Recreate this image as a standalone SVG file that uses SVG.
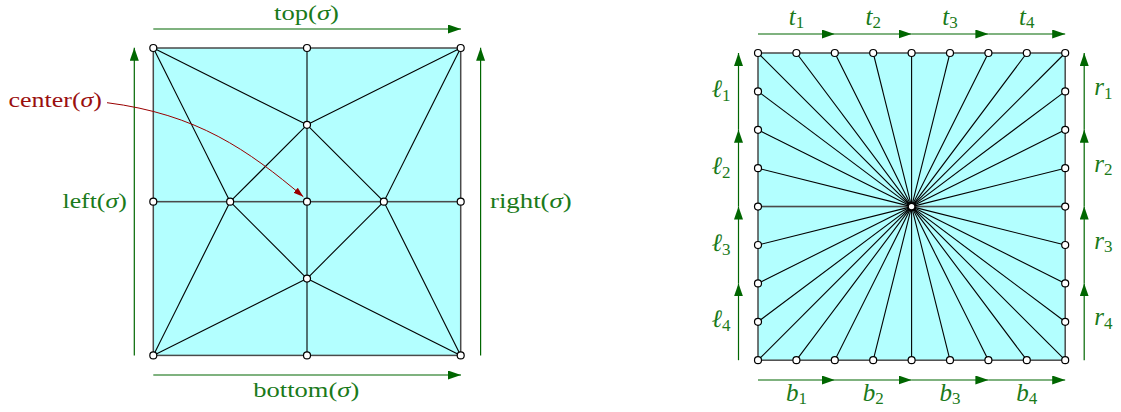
<svg xmlns="http://www.w3.org/2000/svg" width="1121" height="412" viewBox="0 0 1121 412">
<style>
.face{fill:#b3ffff;stroke:#4a4a4a;stroke-width:1.5}
.edge{stroke:#000;stroke-width:1.1;fill:none}
.node{fill:#fff;stroke:#000;stroke-width:1.2}
.garr{stroke:#006600;stroke-width:1.2;fill:none;marker-end:url(#ga)}
.glab{fill:#1a7a1a;font-family:"Liberation Serif","Times New Roman",serif;font-size:22px}
.slab{fill:#1a7a1a;font-family:"Liberation Serif","Times New Roman",serif;font-size:25px}
.rlab{fill:#9a0f0f;font-family:"Liberation Serif","Times New Roman",serif;font-size:22px}
.it{font-style:italic}
.sub{font-size:17px}
</style>
<defs>
<marker id="ga" markerWidth="14" markerHeight="10" refX="13" refY="4.5" orient="auto" markerUnits="userSpaceOnUse">
<path d="M0,0 L13,4.5 L0,9 Z" fill="#006600"/>
</marker>
<marker id="ra" markerWidth="11" markerHeight="8" refX="10" refY="3.3" orient="auto" markerUnits="userSpaceOnUse">
<path d="M0,0 L10,3.3 L0,6.6 Z" fill="#990000"/>
</marker>
</defs>

<!-- LEFT PANEL -->
<g id="left-square">
<rect class="face" x="153.3" y="48" width="307.4" height="153.7"/>
<rect class="face" x="153.3" y="201.7" width="307.4" height="153.7"/>
</g>
<g id="left-edges" class="edge">
<line x1="307" y1="48" x2="307" y2="355.4"/>
<line x1="153.3" y1="48" x2="307" y2="124.85"/>
<line x1="153.3" y1="48" x2="230.15" y2="201.7"/>
<line x1="460.7" y1="48" x2="307" y2="124.85"/>
<line x1="460.7" y1="48" x2="383.85" y2="201.7"/>
<line x1="153.3" y1="355.4" x2="230.15" y2="201.7"/>
<line x1="153.3" y1="355.4" x2="307" y2="278.55"/>
<line x1="460.7" y1="355.4" x2="383.85" y2="201.7"/>
<line x1="460.7" y1="355.4" x2="307" y2="278.55"/>
<line x1="230.15" y1="201.7" x2="307" y2="124.85"/>
<line x1="307" y1="124.85" x2="383.85" y2="201.7"/>
<line x1="383.85" y1="201.7" x2="307" y2="278.55"/>
<line x1="307" y1="278.55" x2="230.15" y2="201.7"/>
</g>
<g id="left-connectors">
<line class="garr" x1="153.3" y1="29" x2="461" y2="29"/>
<line class="garr" x1="153.3" y1="375" x2="461" y2="375"/>
<line class="garr" x1="134.3" y1="355.4" x2="134.3" y2="47.7"/>
<line class="garr" x1="480.6" y1="355.4" x2="480.6" y2="47.7"/>
<path d="M107,102.7 C197,114 248,150 303.3,196.7" fill="none" stroke="#990000" stroke-width="1" marker-end="url(#ra)"/>
</g>
<g id="left-nodes">
<circle class="node" cx="153.3" cy="48" r="3.5"/>
<circle class="node" cx="307" cy="48" r="3.5"/>
<circle class="node" cx="460.7" cy="48" r="3.5"/>
<circle class="node" cx="153.3" cy="201.7" r="3.5"/>
<circle class="node" cx="230.15" cy="201.7" r="3.5"/>
<circle class="node" cx="307" cy="201.7" r="3.5"/>
<circle class="node" cx="383.85" cy="201.7" r="3.5"/>
<circle class="node" cx="460.7" cy="201.7" r="3.5"/>
<circle class="node" cx="307" cy="124.85" r="3.5"/>
<circle class="node" cx="307" cy="278.55" r="3.5"/>
<circle class="node" cx="153.3" cy="355.4" r="3.5"/>
<circle class="node" cx="307" cy="355.4" r="3.5"/>
<circle class="node" cx="460.7" cy="355.4" r="3.5"/>
</g>
<g id="left-labels">
<text class="glab" x="274" y="20" textLength="65" lengthAdjust="spacingAndGlyphs">top(<tspan class="it">σ</tspan>)</text>
<text class="glab" x="253.3" y="397.3" textLength="106" lengthAdjust="spacingAndGlyphs">bottom(<tspan class="it">σ</tspan>)</text>
<text class="glab" x="62.5" y="207.5" textLength="64.3" lengthAdjust="spacingAndGlyphs">left(<tspan class="it">σ</tspan>)</text>
<text class="glab" x="490" y="208" textLength="81.7" lengthAdjust="spacingAndGlyphs">right(<tspan class="it">σ</tspan>)</text>
<text class="rlab" x="8.5" y="106.5" textLength="93.5" lengthAdjust="spacingAndGlyphs">center(<tspan class="it">σ</tspan>)</text>
</g>

<!-- RIGHT PANEL -->
<g id="right-square">
<rect class="face" x="758" y="53" width="307.2" height="153.6"/>
<rect class="face" x="758" y="206.6" width="307.2" height="153.6"/>
</g>
<g id="right-spokes" class="edge">
<line x1="911.6" y1="206.6" x2="758" y2="53"/>
<line x1="911.6" y1="206.6" x2="796.4" y2="53"/>
<line x1="911.6" y1="206.6" x2="834.8" y2="53"/>
<line x1="911.6" y1="206.6" x2="873.2" y2="53"/>
<line x1="911.6" y1="206.6" x2="911.6" y2="53"/>
<line x1="911.6" y1="206.6" x2="950" y2="53"/>
<line x1="911.6" y1="206.6" x2="988.4" y2="53"/>
<line x1="911.6" y1="206.6" x2="1026.8" y2="53"/>
<line x1="911.6" y1="206.6" x2="1065.2" y2="53"/>
<line x1="911.6" y1="206.6" x2="758" y2="360.2"/>
<line x1="911.6" y1="206.6" x2="796.4" y2="360.2"/>
<line x1="911.6" y1="206.6" x2="834.8" y2="360.2"/>
<line x1="911.6" y1="206.6" x2="873.2" y2="360.2"/>
<line x1="911.6" y1="206.6" x2="911.6" y2="360.2"/>
<line x1="911.6" y1="206.6" x2="950" y2="360.2"/>
<line x1="911.6" y1="206.6" x2="988.4" y2="360.2"/>
<line x1="911.6" y1="206.6" x2="1026.8" y2="360.2"/>
<line x1="911.6" y1="206.6" x2="1065.2" y2="360.2"/>
<line x1="911.6" y1="206.6" x2="758" y2="91.4"/>
<line x1="911.6" y1="206.6" x2="758" y2="129.8"/>
<line x1="911.6" y1="206.6" x2="758" y2="168.2"/>
<line x1="911.6" y1="206.6" x2="758" y2="245"/>
<line x1="911.6" y1="206.6" x2="758" y2="283.4"/>
<line x1="911.6" y1="206.6" x2="758" y2="321.8"/>
<line x1="911.6" y1="206.6" x2="1065.2" y2="91.4"/>
<line x1="911.6" y1="206.6" x2="1065.2" y2="129.8"/>
<line x1="911.6" y1="206.6" x2="1065.2" y2="168.2"/>
<line x1="911.6" y1="206.6" x2="1065.2" y2="245"/>
<line x1="911.6" y1="206.6" x2="1065.2" y2="283.4"/>
<line x1="911.6" y1="206.6" x2="1065.2" y2="321.8"/>
</g>
<g id="right-connectors">
<line class="garr" x1="758" y1="34" x2="834.8" y2="34"/>
<line class="garr" x1="834.8" y1="34" x2="911.6" y2="34"/>
<line class="garr" x1="911.6" y1="34" x2="988.4" y2="34"/>
<line class="garr" x1="988.4" y1="34" x2="1065.2" y2="34"/>
<line class="garr" x1="758" y1="380" x2="834.8" y2="380"/>
<line class="garr" x1="834.8" y1="380" x2="911.6" y2="380"/>
<line class="garr" x1="911.6" y1="380" x2="988.4" y2="380"/>
<line class="garr" x1="988.4" y1="380" x2="1065.2" y2="380"/>
<line class="garr" x1="738.5" y1="360.2" x2="738.5" y2="283.4"/>
<line class="garr" x1="738.5" y1="283.4" x2="738.5" y2="206.6"/>
<line class="garr" x1="738.5" y1="206.6" x2="738.5" y2="129.8"/>
<line class="garr" x1="738.5" y1="129.8" x2="738.5" y2="53"/>
<line class="garr" x1="1084.2" y1="360.2" x2="1084.2" y2="283.4"/>
<line class="garr" x1="1084.2" y1="283.4" x2="1084.2" y2="206.6"/>
<line class="garr" x1="1084.2" y1="206.6" x2="1084.2" y2="129.8"/>
<line class="garr" x1="1084.2" y1="129.8" x2="1084.2" y2="53"/>
</g>
<g id="right-nodes">
<circle class="node" cx="758" cy="53" r="3.5"/>
<circle class="node" cx="796.4" cy="53" r="3.5"/>
<circle class="node" cx="834.8" cy="53" r="3.5"/>
<circle class="node" cx="873.2" cy="53" r="3.5"/>
<circle class="node" cx="911.6" cy="53" r="3.5"/>
<circle class="node" cx="950" cy="53" r="3.5"/>
<circle class="node" cx="988.4" cy="53" r="3.5"/>
<circle class="node" cx="1026.8" cy="53" r="3.5"/>
<circle class="node" cx="1065.2" cy="53" r="3.5"/>
<circle class="node" cx="758" cy="360.2" r="3.5"/>
<circle class="node" cx="796.4" cy="360.2" r="3.5"/>
<circle class="node" cx="834.8" cy="360.2" r="3.5"/>
<circle class="node" cx="873.2" cy="360.2" r="3.5"/>
<circle class="node" cx="911.6" cy="360.2" r="3.5"/>
<circle class="node" cx="950" cy="360.2" r="3.5"/>
<circle class="node" cx="988.4" cy="360.2" r="3.5"/>
<circle class="node" cx="1026.8" cy="360.2" r="3.5"/>
<circle class="node" cx="1065.2" cy="360.2" r="3.5"/>
<circle class="node" cx="758" cy="91.4" r="3.5"/>
<circle class="node" cx="758" cy="129.8" r="3.5"/>
<circle class="node" cx="758" cy="168.2" r="3.5"/>
<circle class="node" cx="758" cy="206.6" r="3.5"/>
<circle class="node" cx="758" cy="245" r="3.5"/>
<circle class="node" cx="758" cy="283.4" r="3.5"/>
<circle class="node" cx="758" cy="321.8" r="3.5"/>
<circle class="node" cx="1065.2" cy="91.4" r="3.5"/>
<circle class="node" cx="1065.2" cy="129.8" r="3.5"/>
<circle class="node" cx="1065.2" cy="168.2" r="3.5"/>
<circle class="node" cx="1065.2" cy="206.6" r="3.5"/>
<circle class="node" cx="1065.2" cy="245" r="3.5"/>
<circle class="node" cx="1065.2" cy="283.4" r="3.5"/>
<circle class="node" cx="1065.2" cy="321.8" r="3.5"/>
<circle class="node" cx="911.6" cy="206.6" r="3.3"/>
</g>
<g id="right-labels" text-anchor="middle">
<text class="slab" x="796.4" y="25"><tspan class="it">t</tspan><tspan class="sub" dy="3">1</tspan></text>
<text class="slab" x="873.2" y="25"><tspan class="it">t</tspan><tspan class="sub" dy="3">2</tspan></text>
<text class="slab" x="950" y="25"><tspan class="it">t</tspan><tspan class="sub" dy="3">3</tspan></text>
<text class="slab" x="1026.8" y="25"><tspan class="it">t</tspan><tspan class="sub" dy="3">4</tspan></text>
<text class="slab" x="796.4" y="401"><tspan class="it">b</tspan><tspan class="sub" dy="3">1</tspan></text>
<text class="slab" x="873.2" y="401"><tspan class="it">b</tspan><tspan class="sub" dy="3">2</tspan></text>
<text class="slab" x="950" y="401"><tspan class="it">b</tspan><tspan class="sub" dy="3">3</tspan></text>
<text class="slab" x="1026.8" y="401"><tspan class="it">b</tspan><tspan class="sub" dy="3">4</tspan></text>
<text class="slab" x="721" y="97"><tspan class="it">ℓ</tspan><tspan class="sub" dy="4">1</tspan></text>
<text class="slab" x="721" y="173.8"><tspan class="it">ℓ</tspan><tspan class="sub" dy="4">2</tspan></text>
<text class="slab" x="721" y="250.6"><tspan class="it">ℓ</tspan><tspan class="sub" dy="4">3</tspan></text>
<text class="slab" x="721" y="327.4"><tspan class="it">ℓ</tspan><tspan class="sub" dy="4">4</tspan></text>
<text class="slab" x="1103.4" y="95"><tspan class="it">r</tspan><tspan class="sub" dy="3.5">1</tspan></text>
<text class="slab" x="1103.4" y="171.8"><tspan class="it">r</tspan><tspan class="sub" dy="3.5">2</tspan></text>
<text class="slab" x="1103.4" y="248.6"><tspan class="it">r</tspan><tspan class="sub" dy="3.5">3</tspan></text>
<text class="slab" x="1103.4" y="325.4"><tspan class="it">r</tspan><tspan class="sub" dy="3.5">4</tspan></text>
</g>
</svg>
